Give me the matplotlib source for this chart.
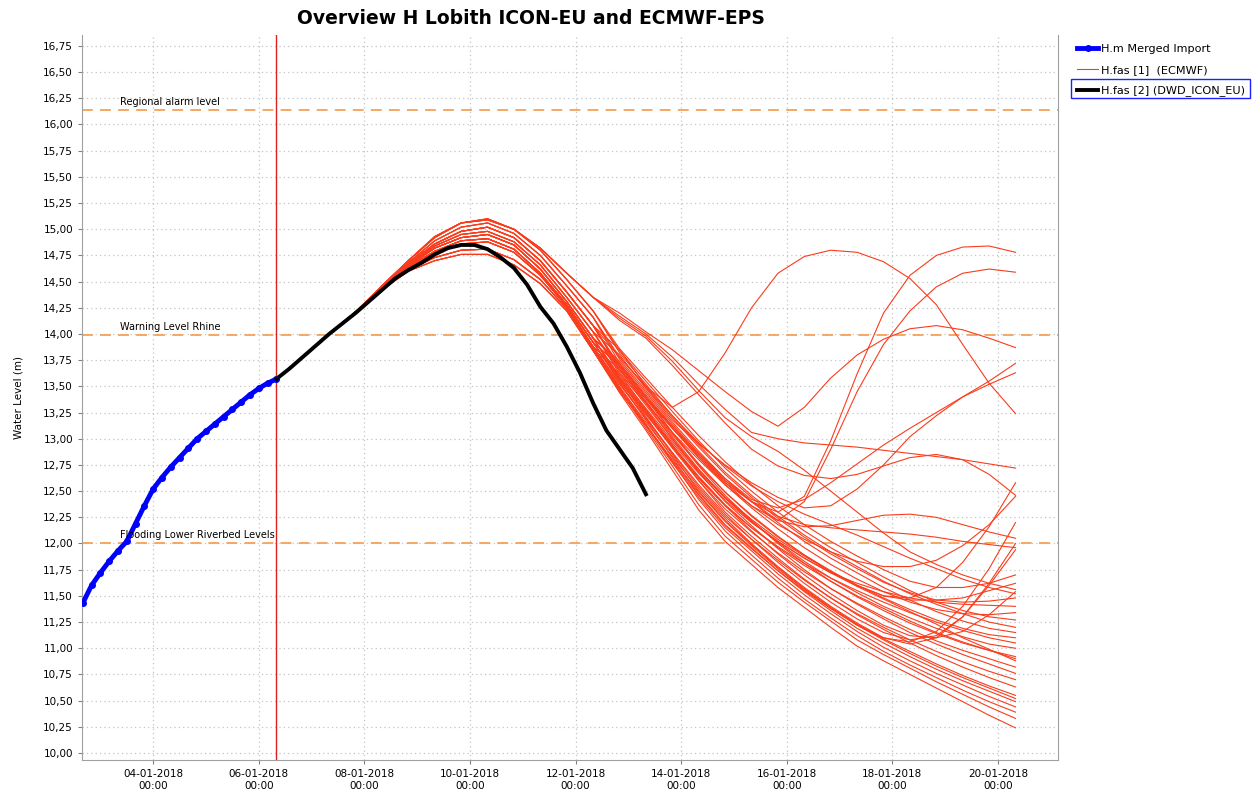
import matplotlib
matplotlib.use('Agg')
import matplotlib.pyplot as plt
from matplotlib.patches import Rectangle
from matplotlib.ticker import MultipleLocator, FuncFormatter
import pandas as pd

# --- data -----------------------------------------------------------------
# observed water level (H.m Merged Import), every 4 hours
obs_times = pd.date_range('2018-01-02 16:00', '2018-01-06 08:00', freq='4h')
obs_vals = [11.43, 11.60, 11.72, 11.83, 11.93, 12.02, 12.19, 12.36, 12.52, 12.63,
            12.73, 12.82, 12.91, 13.00, 13.07, 13.14, 13.21, 13.28, 13.35, 13.42,
            13.48, 13.53, 13.57]

# DWD ICON-EU forecast, every 6 hours
icon_times = pd.date_range('2018-01-06 08:00', periods=29, freq='6h')
icon_vals = [13.57, 13.67, 13.78, 13.89, 14.00, 14.10, 14.20, 14.31, 14.42, 14.53,
             14.61, 14.68, 14.76, 14.82, 14.85, 14.85, 14.81, 14.73, 14.63, 14.47,
             14.26, 14.10, 13.88, 13.63, 13.34, 13.08, 12.90, 12.72, 12.47]

# ECMWF-EPS members, every 12 hours from 06-01 08:00 to 20-01 08:00
ens_times = pd.date_range('2018-01-06 08:00', periods=29, freq='12h')
ens_start = [13.57, 13.78, 14.00, 14.21]

# rise to the peak (08-01 08:00 .. 12-01 08:00)
P0 = [14.46, 14.70, 14.93, 15.06, 15.09, 15.00, 14.82, 14.58, 14.35]
P1 = [14.46, 14.70, 14.92, 15.06, 15.10, 15.00, 14.80, 14.52, 14.22]
P2 = [14.45, 14.68, 14.89, 15.02, 15.06, 14.96, 14.75, 14.46, 14.16]
P3 = [14.45, 14.67, 14.86, 14.98, 15.02, 14.92, 14.70, 14.40, 14.08]
P4 = [14.44, 14.66, 14.84, 14.95, 14.98, 14.88, 14.66, 14.35, 14.02]
P5 = [14.44, 14.65, 14.82, 14.92, 14.95, 14.85, 14.62, 14.31, 13.96]
P6 = [14.43, 14.64, 14.79, 14.89, 14.91, 14.81, 14.58, 14.28, 13.92]
P7 = [14.43, 14.63, 14.77, 14.86, 14.88, 14.78, 14.56, 14.26, 13.88]
P8 = [14.42, 14.61, 14.73, 14.80, 14.81, 14.71, 14.52, 14.24, 13.86]
P9 = [14.42, 14.60, 14.70, 14.76, 14.76, 14.66, 14.48, 14.22, 13.84]

# recession (12-01 20:00 .. 20-01 08:00)
ecmwf_members = [
    # members leaving the bundle
    P3 + [13.85, 13.50, 13.30, 13.45, 13.82, 14.25, 14.58, 14.74, 14.80, 14.78, 14.69, 14.53, 14.28, 13.90, 13.53, 13.24],
    P6 + [13.70, 13.40, 13.10, 12.82, 12.58, 12.40, 12.30, 12.45, 12.98, 13.62, 14.20, 14.56, 14.75, 14.83, 14.84, 14.78],
    P5 + [13.74, 13.44, 13.14, 12.86, 12.60, 12.40, 12.22, 12.40, 12.90, 13.45, 13.90, 14.22, 14.45, 14.58, 14.62, 14.59],
    P0 + [14.20, 14.02, 13.85, 13.65, 13.45, 13.26, 13.12, 13.30, 13.58, 13.80, 13.95, 14.05, 14.08, 14.04, 13.96, 13.87],
    P4 + [13.80, 13.48, 13.18, 12.95, 12.75, 12.58, 12.44, 12.34, 12.36, 12.52, 12.75, 13.02, 13.22, 13.40, 13.55, 13.72],
    P6 + [13.70, 13.40, 13.12, 12.86, 12.62, 12.42, 12.34, 12.42, 12.58, 12.76, 12.94, 13.10, 13.25, 13.40, 13.52, 13.63],
    P0 + [14.17, 14.00, 13.78, 13.52, 13.28, 13.06, 13.00, 12.96, 12.94, 12.92, 12.89, 12.86, 12.83, 12.80, 12.76, 12.72],
    P0 + [14.13, 13.96, 13.70, 13.42, 13.15, 12.90, 12.74, 12.65, 12.62, 12.66, 12.74, 12.82, 12.85, 12.80, 12.66, 12.46],
    P0 + [14.15, 13.98, 13.74, 13.46, 13.20, 13.02, 12.88, 12.70, 12.50, 12.30, 12.10, 11.92, 11.80, 11.70, 11.62, 11.56],
    P8 + [13.62, 13.34, 13.06, 12.80, 12.56, 12.36, 12.22, 12.16, 12.17, 12.22, 12.27, 12.28, 12.25, 12.18, 12.11, 12.05],
    P7 + [13.66, 13.38, 13.10, 12.84, 12.60, 12.40, 12.26, 12.18, 12.15, 12.13, 12.11, 12.09, 12.06, 12.02, 11.99, 11.96],
    P3 + [13.78, 13.50, 13.22, 12.96, 12.74, 12.55, 12.40, 12.28, 12.18, 12.08, 11.97, 11.86, 11.76, 11.66, 11.58, 11.52],
    P5 + [13.72, 13.42, 13.12, 12.84, 12.58, 12.36, 12.18, 12.04, 11.92, 11.83, 11.78, 11.78, 11.84, 11.98, 12.18, 12.45],
    # fast recession
    P9 + [13.44, 13.08, 12.70, 12.32, 12.02, 11.80, 11.58, 11.39, 11.20, 11.02, 10.88, 10.75, 10.62, 10.49, 10.36, 10.24],
    P8 + [13.47, 13.10, 12.74, 12.37, 12.07, 11.85, 11.63, 11.44, 11.26, 11.08, 10.94, 10.81, 10.68, 10.56, 10.44, 10.33],
    P7 + [13.50, 13.14, 12.78, 12.42, 12.12, 11.89, 11.67, 11.47, 11.29, 11.12, 10.97, 10.84, 10.72, 10.60, 10.49, 10.39],
    P9 + [13.46, 13.12, 12.77, 12.44, 12.15, 11.93, 11.71, 11.51, 11.33, 11.16, 11.01, 10.88, 10.76, 10.65, 10.54, 10.44],
    P6 + [13.54, 13.18, 12.82, 12.47, 12.18, 11.96, 11.74, 11.54, 11.36, 11.19, 11.05, 10.92, 10.80, 10.69, 10.59, 10.49],
    P5 + [13.57, 13.21, 12.85, 12.50, 12.22, 11.99, 11.77, 11.57, 11.39, 11.23, 11.09, 10.97, 10.85, 10.74, 10.64, 10.55],
    P8 + [13.48, 13.13, 12.79, 12.46, 12.17, 11.95, 11.74, 11.55, 11.38, 11.22, 11.08, 10.95, 10.83, 10.72, 10.62, 10.52],
    # medium recession
    P4 + [13.62, 13.28, 12.94, 12.60, 12.30, 12.07, 11.86, 11.66, 11.48, 11.32, 11.18, 11.05, 10.93, 10.82, 10.72, 10.63],
    P7 + [13.52, 13.19, 12.86, 12.54, 12.26, 12.04, 11.84, 11.65, 11.48, 11.33, 11.20, 11.08, 10.97, 10.87, 10.78, 10.70],
    P3 + [13.66, 13.34, 13.00, 12.68, 12.40, 12.17, 11.95, 11.75, 11.57, 11.42, 11.28, 11.15, 11.04, 10.94, 10.85, 10.76],
    P6 + [13.56, 13.24, 12.91, 12.60, 12.33, 12.11, 11.91, 11.73, 11.57, 11.43, 11.30, 11.18, 11.07, 10.98, 10.90, 10.82],
    P5 + [13.58, 13.26, 12.94, 12.64, 12.37, 12.15, 11.96, 11.79, 11.64, 11.50, 11.38, 11.26, 11.15, 11.06, 10.98, 10.92],
    P2 + [13.72, 13.40, 13.06, 12.74, 12.46, 12.22, 12.00, 11.81, 11.64, 11.49, 11.36, 11.24, 11.14, 11.05, 10.98, 10.90],
    P3 + [13.68, 13.36, 13.02, 12.71, 12.44, 12.21, 12.01, 11.83, 11.67, 11.53, 11.40, 11.29, 11.19, 11.11, 11.04, 11.00],
    P6 + [13.55, 13.23, 12.92, 12.62, 12.36, 12.15, 11.97, 11.81, 11.67, 11.55, 11.44, 11.34, 11.25, 11.17, 11.10, 11.05],
    P4 + [13.64, 13.32, 13.00, 12.70, 12.44, 12.23, 12.04, 11.88, 11.73, 11.60, 11.48, 11.37, 11.27, 11.19, 11.13, 11.10],
    P5 + [13.59, 13.27, 12.96, 12.67, 12.41, 12.20, 12.02, 11.86, 11.72, 11.59, 11.47, 11.35, 11.23, 11.10, 10.99, 10.88],
    # slow recession, flattening or rising at the end
    P1 + [13.82, 13.52, 13.22, 12.94, 12.68, 12.46, 12.26, 12.08, 11.92, 11.78, 11.64, 11.52, 11.42, 11.33, 11.25, 11.20],
    P2 + [13.76, 13.46, 13.16, 12.88, 12.62, 12.40, 12.20, 12.02, 11.86, 11.72, 11.58, 11.46, 11.35, 11.26, 11.19, 11.15],
    P1 + [13.84, 13.55, 13.26, 12.98, 12.72, 12.50, 12.30, 12.12, 11.96, 11.82, 11.68, 11.55, 11.44, 11.36, 11.30, 11.27],
    P3 + [13.70, 13.40, 13.10, 12.82, 12.56, 12.34, 12.14, 11.96, 11.80, 11.66, 11.54, 11.44, 11.37, 11.33, 11.32, 11.34],
    P2 + [13.78, 13.49, 13.20, 12.92, 12.66, 12.44, 12.24, 12.06, 11.90, 11.76, 11.63, 11.53, 11.46, 11.44, 11.45, 11.48],
    P4 + [13.66, 13.35, 13.04, 12.75, 12.49, 12.27, 12.07, 11.89, 11.73, 11.60, 11.50, 11.46, 11.46, 11.48, 11.55, 11.62],
    P1 + [13.86, 13.58, 13.30, 13.03, 12.78, 12.56, 12.36, 12.18, 12.02, 11.88, 11.75, 11.64, 11.58, 11.58, 11.62, 11.70],
    P6 + [13.57, 13.25, 12.93, 12.63, 12.36, 12.12, 11.90, 11.70, 11.52, 11.36, 11.22, 11.12, 11.10, 11.16, 11.32, 11.54],
    P7 + [13.53, 13.20, 12.87, 12.56, 12.28, 12.04, 11.82, 11.62, 11.44, 11.28, 11.15, 11.08, 11.12, 11.30, 11.60, 11.94],
    P8 + [13.49, 13.16, 12.83, 12.52, 12.24, 12.00, 11.78, 11.58, 11.40, 11.24, 11.10, 11.04, 11.10, 11.30, 11.62, 12.00],
    P9 + [13.45, 13.13, 12.80, 12.49, 12.21, 11.98, 11.76, 11.56, 11.38, 11.22, 11.10, 11.06, 11.16, 11.40, 11.76, 12.20],
    P3 + [13.69, 13.38, 13.06, 12.76, 12.49, 12.26, 12.06, 11.89, 11.74, 11.60, 11.50, 11.48, 11.58, 11.82, 12.16, 12.58],
    P5 + [13.60, 13.29, 12.98, 12.69, 12.43, 12.21, 12.02, 11.86, 11.72, 11.62, 11.54, 11.48, 11.44, 11.42, 11.41, 11.40],
]

# threshold levels
level_names = ['Regional alarm level', 'Warning Level Rhine', 'Flooding Lower Riverbed Levels']
level_vals = [16.14, 13.99, 12.00]

forecast_t0 = pd.Timestamp('2018-01-06 08:00')
tick_days = pd.to_datetime(['2018-01-04', '2018-01-06', '2018-01-08', '2018-01-10', '2018-01-12',
                            '2018-01-14', '2018-01-16', '2018-01-18', '2018-01-20'])

# --- figure -----------------------------------------------------------------
plt.rcParams['font.family'] = ['DejaVu Sans']
fig = plt.figure(figsize=(12.56, 7.94), dpi=100)
ax = fig.add_axes([0.0653, 0.0428, 0.7771, 0.9132])

for lvl in level_vals:
    ax.axhline(lvl, color='#f5a15a', lw=1.3, dashes=(6, 4), zorder=2)
for name, lvl in zip(level_names, level_vals):
    ax.text(pd.Timestamp('2018-01-03 09:00'), lvl + 0.03, name, fontsize=7,
            va='bottom', ha='left', zorder=6)

red_handle = None
for m in ecmwf_members:
    ln, = ax.plot(ens_times, ens_start + m, color='#fa3c1c', lw=0.8, zorder=3)
    red_handle = ln

ax.axvline(forecast_t0, color='#e02020', lw=1.0, zorder=4)

blue_handle, = ax.plot(obs_times, obs_vals, color='#0000ff', lw=3.5, marker='o',
                       ms=4, zorder=5)
black_handle, = ax.plot(icon_times, icon_vals, color='black', lw=2.8, zorder=5)

ax.set_xlim(pd.Timestamp('2018-01-02 15:40'), pd.Timestamp('2018-01-21 03:20'))
ax.set_ylim(9.933, 16.855)
ax.yaxis.set_major_locator(MultipleLocator(0.25))
ax.yaxis.set_major_formatter(FuncFormatter(lambda v, p: f'{v:.2f}'.replace('.', ',')))
ax.set_xticks(tick_days)
ax.set_xticklabels([d.strftime('%d-%m-%Y\n%H:%M') for d in tick_days])
ax.tick_params(labelsize=7.5, length=3, color='#808080')

ax.grid(True, color='#c4c4c4', lw=0.9, dashes=(1, 2.5))
ax.set_axisbelow(True)
for s in ['left', 'bottom', 'right']:
    ax.spines[s].set_color('#a0a0a0')
ax.spines['top'].set_visible(False)

ax.set_ylabel('Water Level (m)', fontsize=7.5, labelpad=14)

fig.text(0.423, 0.977, 'Overview H Lobith ICON-EU and ECMWF-EPS', fontsize=13.5,
         fontweight='bold', ha='center', va='center')

# legend outside on the right
fig.legend([blue_handle, red_handle, black_handle],
           ['H.m Merged Import', 'H.fas [1]  (ECMWF)', 'H.fas [2] (DWD_ICON_EU)'],
           loc='upper left', bbox_to_anchor=(0.854, 0.950), frameon=False,
           fontsize=8.1, handlelength=1.9, handletextpad=0.2, labelspacing=0.95,
           borderaxespad=0)
fig.patches.append(Rectangle((0.853, 0.8766), 0.1425, 0.0239, transform=fig.transFigure,
                             fill=False, edgecolor='#2020ff', lw=1.0))

fig.savefig('out.png', dpi=100)
